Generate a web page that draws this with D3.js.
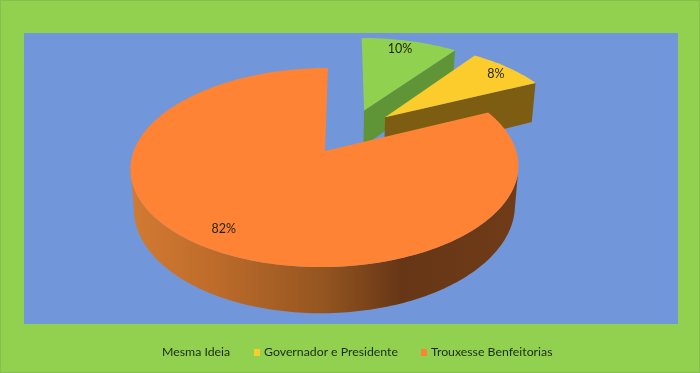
<!DOCTYPE html>
<html>
<head>
<meta charset="utf-8">
<script src="https://cdn.jsdelivr.net/npm/d3@7"></script>
<style>
  html, body { margin: 0; padding: 0; background: #92d050; overflow: hidden; }
  svg { display: block; filter: blur(0.4px); }
  text { font-family: Lato, "Open Sans", sans-serif; }
</style>
</head>
<body>
<svg id="chart" width="700" height="373"></svg>
<script>
const categories = ["Mesma Ideia", "Governador e Presidente", "Trouxesse Benfeitorias"];
const shares = [10, 8, 82];
const topColors = ["#91d150", "#fbcc2c", "#fe8334"];
const sideColors = ["#5f9537", "#7c5d12", "#a85f25"];

const width = 700;
const height = 373;
const panel = { left: 24, top: 33, right: 678, bottom: 324 };

// Perspective of the disc, fitted on the reference
const originX = 325;
const originY = 151;
const scaleU = 191.3;
const scaleV = 96.8;
const tilt = 0.166;
const skew = -3.5;
const depth = 38.5;
const bottomShrink = 0.982;

// Exploded pie: every slice moves out from a shared middle
const explode = 0.25;
const middleU = 0.134;
const middleV = -0.211;
const labelRadius = 0.86;

// small hand corrections per slice, the original is not a perfect projection
const wallStretch = [1, 1.15, 1];
const labelNudgeX = [-4, 4, 2];
const labelNudgeY = [-1, 0, -2];

const svg = d3.select("#chart");

svg.append("rect")
  .attr("x", 0.5).attr("y", 0.5)
  .attr("width", width - 1).attr("height", height - 1)
  .attr("fill", "#92d050")
  .attr("stroke", "#86bf4d");

svg.append("rect")
  .attr("x", panel.left).attr("y", panel.top)
  .attr("width", panel.right - panel.left)
  .attr("height", panel.bottom - panel.top)
  .attr("fill", "#7296da");

// Gradient on the round wall of the big slice
const defs = svg.append("defs");
const wallGradient = defs.append("linearGradient")
  .attr("id", "wall")
  .attr("gradientUnits", "userSpaceOnUse")
  .attr("x1", 130).attr("x2", 518)
  .attr("y1", 0).attr("y2", 0);
[[0, "#d27a33"], [0.2, "#c06d2b"], [0.5, "#945520"], [0.7, "#663616"], [1, "#703c18"]]
  .forEach(function (stop) {
    wallGradient.append("stop").attr("offset", stop[0]).attr("stop-color", stop[1]);
  });

// Unit disc coordinates to screen, level 0 is the top face, level 1 the bottom face
function project(u, v, level, stretch) {
  const w = 1 - tilt * v;
  const x = (scaleU * u + skew * v) / w;
  const y = (scaleV * v) / w;
  if (level === 1) {
    return [originX + x * bottomShrink, originY + y + (depth * (stretch || 1)) / w];
  }
  return [originX + x, originY + y];
}

const pie = d3.pie().sort(null).startAngle(0).endAngle(2 * Math.PI);
const arcs = pie(shares);
const line = d3.line();

function sliceCentre(d) {
  const mid = (d.startAngle + d.endAngle) / 2;
  return [middleU + explode * Math.sin(mid), middleV - explode * Math.cos(mid)];
}

function rimPoint(d, angle, level) {
  const c = sliceCentre(d);
  return project(c[0] + Math.sin(angle), c[1] - Math.cos(angle), level, wallStretch[d.index]);
}

function arcAngles(from, to) {
  const steps = Math.ceil(Math.abs(to - from) / 0.02);
  return d3.range(steps + 1).map(function (i) {
    return from + ((to - from) * i) / steps;
  });
}

// Silhouette angles of the disc, where the rim turns from back to front
const wallFrom = Math.PI - Math.acos(tilt) + 0.01;
const wallTo = Math.PI + Math.acos(tilt) - 0.01;

const slices = svg.append("g");

// back to front, so the big slice covers the feet of the small ones
arcs.forEach(function (d, i) {
  const c = sliceCentre(d);
  const g = slices.append("g");

  if (d.endAngle < Math.PI) {
    // small slices: only the cut face on the clockwise side shows
    g.append("path")
      .attr("d", line([
        project(c[0], c[1], 0),
        rimPoint(d, d.endAngle, 0),
        rimPoint(d, d.endAngle, 1),
        project(c[0], c[1], 1, wallStretch[i]),
      ]) + "Z")
      .attr("fill", sideColors[i]);
  } else {
    const top = arcAngles(wallFrom, wallTo).map(function (a) { return rimPoint(d, a, 0); });
    const bottom = arcAngles(wallTo, wallFrom).map(function (a) { return rimPoint(d, a, 1); });
    g.append("path")
      .attr("d", line(top.concat(bottom)) + "Z")
      .attr("fill", "url(#wall)");
  }

  const rim = arcAngles(d.startAngle, d.endAngle).map(function (a) { return rimPoint(d, a, 0); });
  g.append("path")
    .attr("d", line([project(c[0], c[1], 0)].concat(rim)) + "Z")
    .attr("fill", topColors[i]);
});

// Data labels
arcs.forEach(function (d, i) {
  const c = sliceCentre(d);
  const mid = (d.startAngle + d.endAngle) / 2;
  const p = project(c[0] + labelRadius * Math.sin(mid), c[1] - labelRadius * Math.cos(mid), 0);
  svg.append("text")
    .attr("x", p[0] + labelNudgeX[i]).attr("y", p[1] + labelNudgeY[i])
    .attr("dy", "0.35em")
    .attr("text-anchor", "middle")
    .attr("font-size", 12.5)
    .attr("fill", "#1c2412")
    .text(d.data + "%");
});

// Legend, first swatch is green on green like the original
const legendX = d3.scaleOrdinal().domain(categories).range([162, 264, 431]);
const legend = svg.append("g");
categories.forEach(function (name, i) {
  legend.append("rect")
    .attr("x", legendX(name) - 10).attr("y", 349)
    .attr("width", 6).attr("height", 7)
    .attr("fill", topColors[i]);
  legend.append("text")
    .attr("x", legendX(name)).attr("y", 352)
    .attr("dy", "0.35em")
    .attr("font-size", 12.3)
    .attr("fill", "#1c2b12")
    .text(name);
});
</script>
</body>
</html>
